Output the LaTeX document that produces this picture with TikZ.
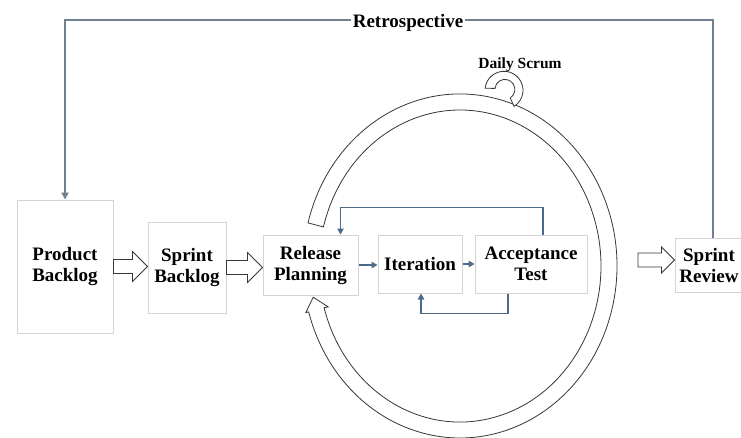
\documentclass[tikz,border=0pt]{standalone}
\usepackage{fontspec}
\setmainfont{Liberation Serif}
\usetikzlibrary{arrows.meta,calc}
\definecolor{boxline}{RGB}{212,212,212}
\definecolor{fbline}{RGB}{76,106,138}
\definecolor{retroline}{RGB}{112,128,144}
\definecolor{ringline}{RGB}{55,55,55}
\begin{document}
\begin{tikzpicture}[x=1pt,y=-1pt,
  box/.style={draw=boxline, line width=1pt, fill=white, align=center, inner sep=0pt,
    font=\bfseries\fontsize{19}{21}\selectfont},
  fb/.style={draw=fbline, line width=1.1pt, -{Triangle[length=6pt,width=6.5pt]}},
  retro/.style={draw=retroline, line width=1.8pt},
  hollow/.style={draw=ringline, line width=0.8pt, fill=white, line join=miter},
  ringstyle/.style={draw=ringline, line width=0.8pt, fill=white, line join=miter},
  lbl/.style={font=\bfseries\fontsize{19}{21}\selectfont, anchor=base, inner sep=2pt}]
\useasboundingbox (0,0) rectangle (741,437);
\clip (0,0) rectangle (741,437);

% big circular arrow
\draw[ringstyle] (308.0,222.9) arc[start angle=194.5, end angle=524.5, x radius=157, y radius=172]
  -- (305.8,312.6) -- (313.2,297.2) -- (328.2,306.9) -- (324.1,307.7)
  arc[start angle=524.5, end angle=194.5, x radius=141, y radius=156] -- cycle;
% daily scrum hook
\draw[ringstyle] (485.1,88.3) arc[start angle=186, end angle=418, radius=19]
  -- (510.2,97.9) arc[start angle=418, end angle=186, radius=10] -- cycle;

% boxes
\node[box, minimum width=96pt, minimum height=133pt] (pb) at (65,266.5) {Product\\Backlog};
\node[box, minimum width=78pt, minimum height=91pt] (sb) at (187,267.5) {Sprint\\Backlog};
\node[box, minimum width=95pt, minimum height=60pt] (rp) at (310.5,265) {Release\\Planning};
\node[box, minimum width=84pt, minimum height=58pt] (it) at (420,264) {Iteration};
\node[box, minimum width=112pt, minimum height=58pt] (at) at (531,264) {Acceptance\\Test};
\node[box, minimum width=68pt, minimum height=54pt] (sr) at (709,265) {Sprint\\Review};

% hollow block arrows
\draw[hollow] ($(pb.east)+(0,-7)$) -- ($(sb.west|-pb.east)+(-15,-7)$) -- ++(0,-8)
  -- (sb.west|-pb.east) -- ++(-15,15) -- ++(0,-8) -- ($(pb.east)+(0,7)$) -- cycle;
\draw[hollow] ($(sb.east)+(0,-7)$) -- ($(rp.west|-sb.east)+(-15,-7)$) -- ++(0,-8)
  -- (rp.west|-sb.east) -- ++(-15,15) -- ++(0,-8) -- ($(sb.east)+(0,7)$) -- cycle;
\coordinate (rv) at (638,260);
\draw[hollow] ($(rv)+(0,-7)$) -- ($(sr.west|-rv)+(-13,-7)$) -- ++(0,-6)
  -- (sr.west|-rv) -- ++(-13,13) -- ++(0,-6) -- ($(rv)+(0,7)$) -- cycle;

% inner flow
\draw[fb] (rp.east) -- (rp.east-|it.west);
\draw[fb] (it.east) -- (it.east-|at.west);
\draw[fb] ($(at.north)+(12,0)$) -- ++(0,-27) -| ($(rp.north)+(30,0)$);
\draw[fb] ($(at.south)+(-23,0)$) -- ++(0,20) -| ($(it.south)+(1,0)$);

% retrospective loop
\coordinate (rtop) at (0,20);
\coordinate (srt) at ($(sr.north)+(4,0)$);
\draw[retro, -{Triangle[length=7pt,width=7pt]}] (srt) -- (srt|-rtop) -- (pb.north|-rtop) -- (pb.north);
\node[lbl, fill=white] (retro) at (408,27) {Retrospective};
\node[lbl, font=\bfseries\fontsize{15.5}{17}\selectfont] (ds) at (520,68) {Daily Scrum};
\end{tikzpicture}
\end{document}
